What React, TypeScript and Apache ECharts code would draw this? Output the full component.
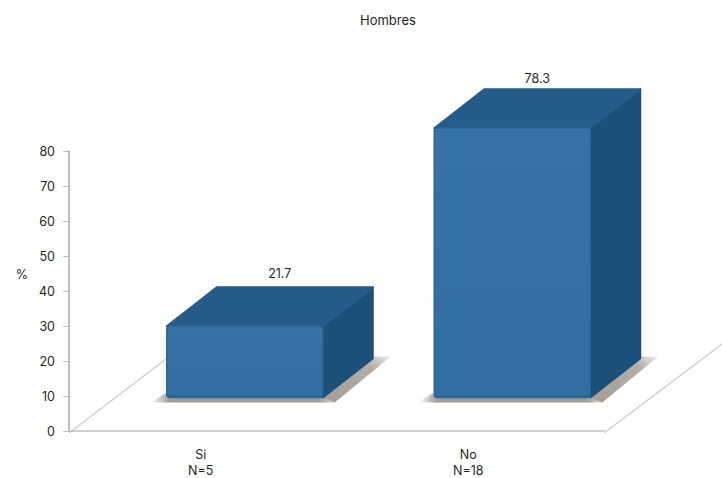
import React, { useEffect, useRef } from "react";
import * as echarts from "echarts";

const categories = ["Si\nN=5", "No\nN=18"];
const values = [21.7, 78.3];
const yTicks = { min: 0, max: 80, interval: 10 };
const titleText = "Hombres";
const yName = "%";

const FONT = "Inter";
const TEXT = "#1f1f1f";
const AXIS = "#bfbfbf";
const BASE_ABOVE_AXIS = 33.5; // floor position of the bar foot, px above the axis
const LIFT = 28.7; // perspective lift of the bar top, px
const SHIFT = 42; // bar offset from category centre, px
const HALF = 78;
const DX = 50;
const DY = 39;
const labelNudgeX = [11, 1];
const labelNudgeY = [-14, -11];

const SHADOW = "#a39c95";

function renderBar(params: any, api: any) {
  const idx = api.value(0);
  const [cx, axisY] = api.coord([idx, 0]);
  const [, topRaw] = api.coord([idx, api.value(1)]);
  const left = cx + SHIFT - HALF;
  const right = cx + SHIFT + HALF;
  const bottom = axisY - BASE_ABOVE_AXIS;
  const top = topRaw - LIFT;
  const edge = 1 - 3 / (bottom - top);
  const poly = (points: number[][], fill: string) => ({
    type: "polygon",
    shape: { points },
    style: { fill, stroke: fill, lineWidth: 2, lineJoin: "round" },
  });
  return {
    type: "group",
    children: [
      {
        type: "polygon",
        shape: {
          points: [
            [left - 16, bottom + 5],
            [right + 12, bottom + 5],
            [right + 4, bottom - 4],
            [left - 2, bottom - 4],
          ],
        },
        style: {
          fill: new echarts.graphic.LinearGradient(0, 0, 1, 0, [
            { offset: 0, color: "rgba(163,156,149,0)" },
            { offset: 0.1, color: SHADOW },
            { offset: 0.92, color: SHADOW },
            { offset: 1, color: "rgba(190,170,150,0.5)" },
          ]),
        },
      },
      {
        type: "polygon",
        shape: {
          points: [
            [right + 12, bottom + 5],
            [right + DX + 18, bottom - DY - 2],
            [right + DX - 4, bottom - DY - 2],
            [right - 4, bottom - 2],
          ],
        },
        style: {
          fill: new echarts.graphic.LinearGradient(1, 0, 0, 1, [
            { offset: 0, color: "rgba(163,156,149,0.15)" },
            { offset: 0.25, color: "#b5ada6" },
            { offset: 1, color: SHADOW },
          ]),
        },
      },
      poly(
        [
          [right, top],
          [right + DX, top - DY],
          [right + DX, bottom - DY],
          [right, bottom],
        ],
        "#1b5179",
      ),
      poly(
        [
          [left, top],
          [left + DX, top - DY],
          [right + DX, top - DY],
          [right, top],
        ],
        "#255c89",
      ),
      {
        type: "rect",
        shape: { x: left, y: top, width: right - left, height: bottom - top, r: 3 },
        style: {
          fill: new echarts.graphic.LinearGradient(0, 0, 0, 1, [
            { offset: 0, color: "#3672a5" },
            { offset: edge, color: "#316ea1" },
            { offset: 1, color: "#24597f" },
          ]),
          stroke: "#2c6596",
          lineWidth: 1.5,
        },
      },
      {
        type: "text",
        style: {
          x: (left + right) / 2 + DX / 2 + labelNudgeX[idx] - 1,
          y: top - DY + labelNudgeY[idx],
          text: String(api.value(1)),
          fill: TEXT,
          font: `12.5px ${FONT}`,
          align: "center",
          verticalAlign: "middle",
        },
      },
    ],
  };
}

export default function App() {
  const ref = useRef<HTMLDivElement>(null);
  useEffect(() => {
    const chart = echarts.init(ref.current!, null, { renderer: "svg" });
    const floorLine = (x1: number, y1: number, x2: number, y2: number) => ({
      type: "line",
      z: 0,
      shape: { x1, y1, x2, y2 },
      style: { stroke: "#d0d0d0", lineWidth: 1.5 },
    });
    chart.setOption({
      animation: false,
      backgroundColor: "#ffffff",
      title: {
        text: titleText,
        left: 355,
        top: 8,
        textStyle: { fontFamily: FONT, fontSize: 13, fontWeight: "normal", color: TEXT },
      },
      grid: { left: 69, right: 118, top: 151, bottom: 45, containLabel: false },
      graphic: [
        floorLine(69, 433, 170, 356),
        floorLine(604, 433, 722, 344),
        {
          type: "text",
          x: 22,
          y: 274,
          style: {
            text: yName,
            fill: TEXT,
            font: `12.5px ${FONT}`,
            align: "center",
            verticalAlign: "middle",
          },
        },
      ],
      xAxis: {
        type: "category",
        data: categories,
        axisLine: { lineStyle: { color: AXIS, width: 1.5 } },
        axisTick: { length: 5, lineStyle: { color: AXIS } },
        axisLabel: {
          fontFamily: FONT,
          fontSize: 12.5,
          color: TEXT,
          margin: 15,
          lineHeight: 16,
          interval: 0,
          padding: [0, 4, 0, 0],
        },
      },
      yAxis: {
        type: "value",
        ...yTicks,
        splitLine: { show: false },
        axisLine: { show: true, lineStyle: { color: AXIS, width: 2 } },
        axisTick: { show: true, length: 6, lineStyle: { color: AXIS } },
        axisLabel: { fontFamily: FONT, fontSize: 12.5, color: TEXT, margin: 14 },
      },
      series: [
        {
          type: "custom",
          clip: false,
          renderItem: renderBar,
          encode: { x: 0, y: 1 },
          data: values.map((v, i) => [i, v]),
        },
      ],
    });
    return () => chart.dispose();
  }, []);
  return <div ref={ref} style={{ position: "absolute", left: 0, top: 0, width: 722, height: 478 }} />;
}
